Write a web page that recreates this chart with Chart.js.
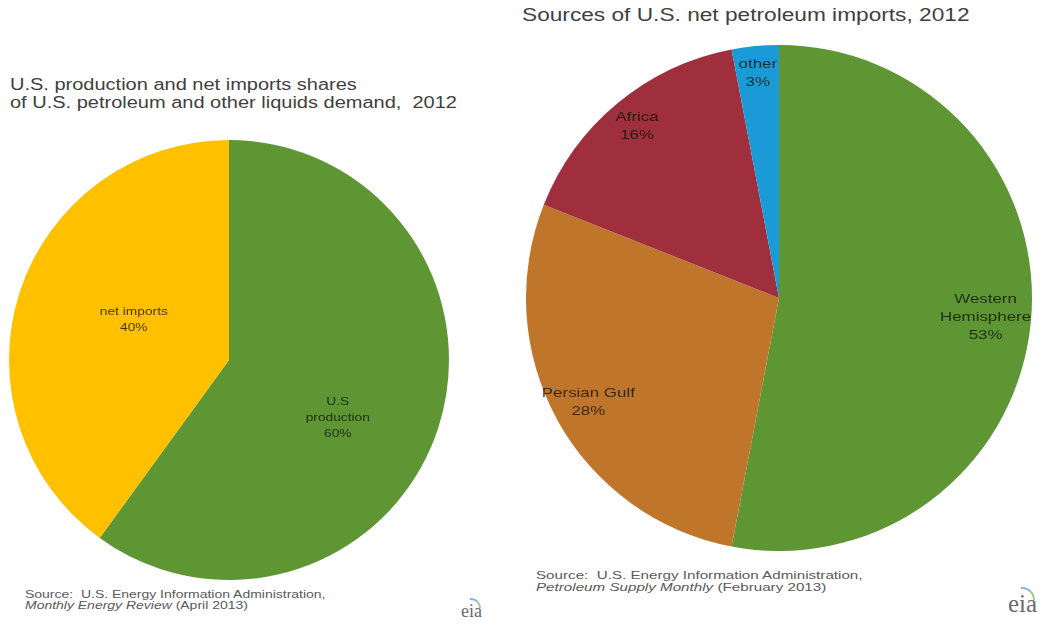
<!DOCTYPE html>
<html>
<head>
<meta charset="utf-8">
<script src="https://cdn.jsdelivr.net/npm/chart.js@4.4.1/dist/chart.umd.min.js"></script>
<style>
  body { margin: 0; background: #fff; font-family: "Liberation Sans", Arial, sans-serif; color: #404040; }
  #page { position: relative; width: 1054px; height: 626px; overflow: hidden; }
  .title { position: absolute; white-space: nowrap; color: #3f3f3f; transform-origin: 0 0; }
  .source { position: absolute; font-size: 11px; line-height: 11px; color: #595959; white-space: nowrap; transform-origin: 0 0; }
  .logo { position: absolute; font-family: "Liberation Serif", "DejaVu Serif", serif; color: #6b6b6b; }
  .logo::before { content: ""; position: absolute; left: 45%; top: -3px; width: 40%; height: 40%;
    border-top: 2px solid #7fb8d8; border-right: 2px solid #9ccc8a; border-radius: 0 14px 0 0; }
  canvas { position: absolute; }
</style>
</head>
<body>
<div id="page">
  <div class="title" style="left:10px; top:76px; font-size:16px; line-height:18px; transform:scaleX(1.25);">U.S. production and net imports shares<br>of U.S. petroleum and other liquids demand,&nbsp; 2012</div>
  <div class="title" style="left:522px; top:5px; font-size:18px; transform:scaleX(1.26);">Sources of U.S. net petroleum imports, 2012</div>

  <canvas id="demandChart" width="440" height="440" style="left:9px; top:140px;"></canvas>
  <canvas id="importsChart" width="506" height="506" style="left:526px; top:45px;"></canvas>

  <div class="source" style="left:25px; top:589px; transform:scaleX(1.27);">Source:&nbsp; U.S. Energy Information Administration,<br><i>Monthly Energy Review</i> (April 2013)</div>
  <div class="logo" style="left:461px; top:601px; font-size:18px;">eia</div>
  <div class="source" style="left:536px; top:569px; line-height:12px; transform:scaleX(1.38);">Source:&nbsp; U.S. Energy Information Administration,<br><i>Petroleum Supply Monthly</i> (February 2013)</div>
  <div class="logo" style="left:1008px; top:590px; font-size:25px;">eia</div>
</div>
<script>
// Demand shares (percent)
const demandCategories = ['U.S\nproduction', 'net imports'];
const demandShares = [60, 40];
const demandColors = ['#5e9634', '#ffc000'];

// Import sources (percent)
const importCategories = ['Western\nHemisphere', 'Persian Gulf', 'Africa', 'other'];
const importShares = [53, 28, 16, 3];
const importColors = ['#5e9634', '#c0762a', '#a02f3d', '#1b9ad8'];

// Writes category name + percent inside each slice
const sliceLabels = {
  id: 'sliceLabels',
  afterDatasetsDraw(chart, args, opts) {
    const ctx = chart.ctx;
    const meta = chart.getDatasetMeta(0);
    const values = chart.data.datasets[0].data;
    ctx.save();
    ctx.font = opts.size + 'px "Liberation Sans", Arial, sans-serif';
    ctx.fillStyle = 'rgba(15, 15, 5, 0.78)';
    ctx.textAlign = 'center';
    ctx.textBaseline = 'middle';
    meta.data.forEach((arc, i) => {
      const p = arc.getProps(['x', 'y', 'startAngle', 'endAngle', 'outerRadius']);
      const mid = (p.startAngle + p.endAngle) / 2 + (opts.nudge[i] || 0) * Math.PI / 180;
      const r = p.outerRadius * opts.radius[i];
      const x = p.x + Math.cos(mid) * r;
      const y = p.y + Math.sin(mid) * r;
      const lines = chart.data.labels[i].split('\n').concat(values[i] + '%');
      ctx.save();
      ctx.translate(x, y);
      ctx.scale(opts.stretch, 1);
      lines.forEach((line, j) => {
        ctx.fillText(line, 0, (j - (lines.length - 1) / 2) * opts.lineHeight);
      });
      ctx.restore();
    });
    ctx.restore();
  }
};

function makePie(id, labels, values, colors, labelOpts) {
  return new Chart(document.getElementById(id).getContext('2d'), {
    type: 'pie',
    data: {
      labels: labels,
      datasets: [{
        data: values,
        backgroundColor: colors,
        borderWidth: 0,
        hoverOffset: 0
      }]
    },
    options: {
      responsive: false,
      animation: false,
      layout: { padding: 0 },
      plugins: {
        legend: { display: false },
        tooltip: { enabled: false },
        sliceLabels: labelOpts
      }
    },
    plugins: [sliceLabels]
  });
}

const demandChart = makePie('demandChart', demandCategories, demandShares, demandColors,
  { radius: [0.56, 0.47], nudge: [10, 5], size: 11, stretch: 1.25, lineHeight: 16 });
const importsChart = makePie('importsChart', importCategories, importShares, importColors,
  { radius: [0.82, 0.86, 0.88, 0.89], nudge: [0, 0, 0, 0], size: 13, stretch: 1.3, lineHeight: 18 });
</script>
</body>
</html>
